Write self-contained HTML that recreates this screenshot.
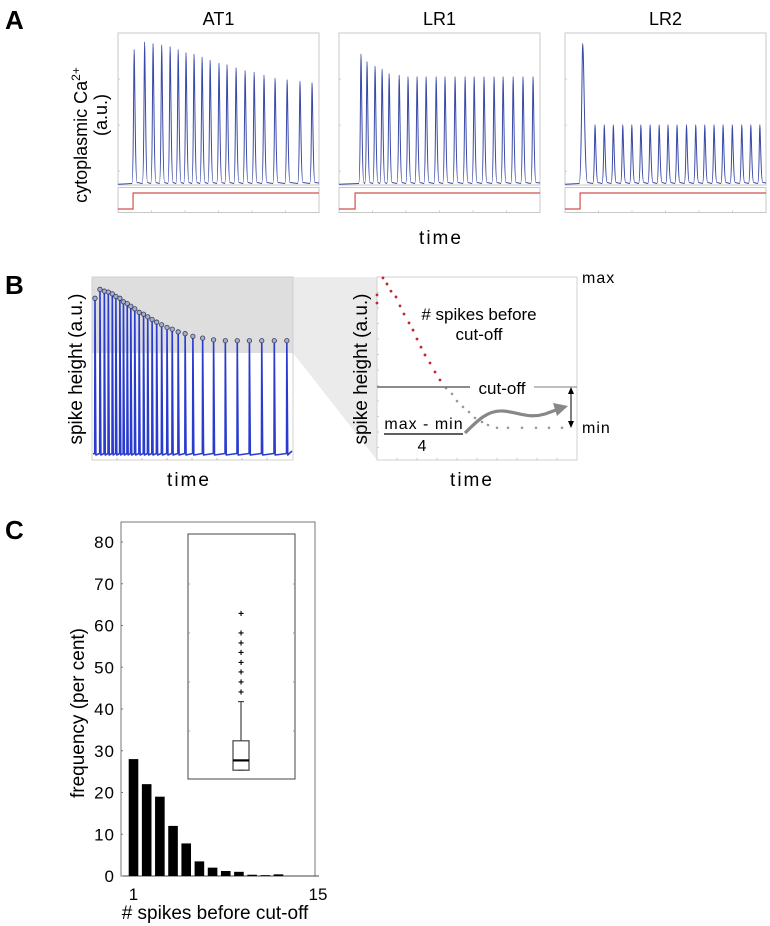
<!DOCTYPE html>
<html><head><meta charset="utf-8">
<style>
html,body{margin:0;padding:0;background:#fff;}
svg{display:block;font-family:"Liberation Sans",Arial,sans-serif;}
</style></head>
<body>
<svg id="fig" width="770" height="926" viewBox="0 0 770 926" xmlns="http://www.w3.org/2000/svg">
  <g id="gA"></g>
  <g id="gB"></g>
  <g id="gC"></g>
</svg>
<script>
// ---------- Panel A data (time 0-100 across panel, peak 0-100 of box height) ----------
const at1Times = [8,13.2,17.4,21.7,25.9,29.9,33.8,37.8,41.8,45.8,50.2,54.2,58.7,63.2,67.7,72.6,78.1,84.1,90.5,96.5];
const at1Peaks = [89,94,93,92,91,89,87,86,84,82,80,79,77,75,74,72,70,69,68,67];
const lr1Times = [10.9,13.9,17.9,21.4,24.9,29.9,34.3,38.8,43.3,48.3,52.7,57.7,62.7,67.2,72.1,77.1,81.6,86.6,91.5,96.5];
const lr1Peaks = [86,81,78,76,73,72,71,71,71,71,71,71,71,71,71,71,71,71,71,71];
const lr2Times = [8.8,14.9,19.5,24,28.7,33.2,37.7,42.3,46.8,51.2,55.7,60.4,65,69.5,74.1,78.6,83.2,87.9,92.4,96.9];
const lr2Peaks = [93,39,39,39,39,39,39,39,39,39,39,39,39,39,39,39,39,39,39,39];
const stimOnset = [7.5, 8, 7.5];
const panelTitles = ["AT1","LR1","LR2"];

// ---------- Panel B data ----------
const bTimes = [1,3.5,5.7,7.7,9.7,11.5,13.5,15.3,17.2,19,21,23.2,25.4,27.5,29.7,32,34.5,37.2,39.8,42.8,46.3,50.2,55.1,60.6,66.5,72.5,78.6,84.8,91.1,97.4];
const bPeaks = [88,93,92,91.5,90.5,89,88,86,85,83.5,82,80,79,77.5,76,74.5,73,71.5,70.5,69,68,66.5,65.5,64.5,64,64,64,64,64,64];
const redT = [0,0,3,5,7,9.5,11.5,13.5,16,18,20,22,24,26.5,29,31.5];
const redH = [90.2,85.8,99.5,96.2,92.3,89.1,84.2,79.8,74.9,71,66.1,61.7,57.4,53,48.1,43.7];
const grayT = [34.5,37.5,40,43,46,49,52.5,55.5,60,65.5,72.5,79.5,86,92.5];
const grayH = [39.3,36.1,32.2,29,26.2,23,20.8,19.1,17.6,17.6,17.6,17.6,17.6,17.6];

// ---------- Panel C data ----------
const spikeCounts = [1,2,3,4,5,6,7,8,9,10,11,12,13,14];
const frequency = [28,22,19,12,7.8,3.5,2,1.2,1,0.3,0.2,0.4,0,0];
const yTicks = [0,10,20,30,40,50,60,70,80];
const xTickLabels = [1,15];
const boxMin = 1, boxQ1 = 1, boxMedian = 2, boxQ3 = 4, boxWhiskerHi = 8;
const outliers = [9,10,11,12,13,14,15,17];
const insetTicks = [5,10,15,20];

const NS = "http://www.w3.org/2000/svg";
function mk(tag, attrs, parent, text){
  const e = document.createElementNS(NS, tag);
  for (const k in attrs) e.setAttribute(k, attrs[k]);
  if (text !== undefined) e.textContent = text;
  parent.appendChild(e);
  return e;
}
const gA = document.getElementById('gA');
const gB = document.getElementById('gB');
const gC = document.getElementById('gC');

// ===== Panel A =====
let t = mk('text',{x:5,y:29,'font-size':26,'font-weight':'bold'},gA,'A');



const boxesA = [118,339,565];
const boxW = 201, topA = 33, baseA = 183.5, botA = 185, stimTop = 187.5, stimBot = 212.5;
const seriesT = [at1Times, lr1Times, lr2Times];
const seriesP = [at1Peaks, lr1Peaks, lr2Peaks];
const names = ['at1','lr1','lr2'];
for (let p=0;p<3;p++){
  const x0 = boxesA[p];
  const sx = v => x0 + v*boxW/100;
  const sy = v => baseA - v*(baseA-topA)/100;
  const g = mk('g',{},gA);
  
  
  let tt = mk('text',{x:x0+boxW/2,y:25,'font-size':18,'text-anchor':'middle'},g,panelTitles[p]);
  
  
  let fr = mk('rect',{x:x0,y:topA,width:boxW,height:botA-topA,fill:'none',stroke:'#c8c8c8','stroke-width':1},g);
  
  
  for (let k=1;k<4;k++) mk('line',{x1:x0,x2:x0+2,y1:topA+k*(botA-topA)/3.3,y2:topA+k*(botA-topA)/3.3,stroke:'#ccc'},g);
  let d = `M${x0},${baseA+0.8}`;
  const times = seriesT[p], peaks = seriesP[p];
  for (let i=0;i<times.length;i++){
    const x = sx(times[i]), py = sy(peaks[i]);
    const big = (p===2 && i===0);
    const w1 = big?2.5:1.2, w2 = big?4:2.2;
    d += ` L${x-w1-1},${baseA} C${x-w1*0.5},${baseA} ${x-w1*0.25},${py} ${x},${py}`;
    d += ` C${x+w2*0.3},${py} ${x+w2*0.5},${baseA-1} ${x+w2+0.8},${baseA-1}`;
  }
  d += ` L${x0+boxW},${baseA-0.5}`;
  let tr = mk('path',{d:d,fill:'none',stroke:'#3a4aa8','stroke-width':1},g);
  
  
  let sb = mk('rect',{x:x0,y:stimTop,width:boxW,height:stimBot-stimTop,fill:'none',stroke:'#c8c8c8'},g);
  
  
  for (let k=1;k<6;k++) mk('line',{x1:x0+k*boxW/6,x2:x0+k*boxW/6,y1:stimBot,y2:stimBot-2,stroke:'#ccc'},g);
  const sxOn = sx(stimOnset[p]);
  let st = mk('path',{d:`M${x0},209 L${sxOn},209 L${sxOn},193 L${x0+boxW},193`,fill:'none',stroke:'#d0504a','stroke-width':1.2},g);
  
  
}
t = mk('text',{transform:'translate(87,135) rotate(-90)','font-size':18,'text-anchor':'middle'},gA);


t.innerHTML = 'cytoplasmic Ca<tspan dy="-7" font-size="12">2+</tspan>';
t = mk('text',{transform:'translate(107,115) rotate(-90)','font-size':18,'text-anchor':'middle'},gA,'(a.u.)');


t = mk('text',{x:441,y:244,'font-size':19,'text-anchor':'middle','letter-spacing':'2'},gA,'time');



// ===== Panel B =====
t = mk('text',{x:5,y:294,'font-size':26,'font-weight':'bold'},gB,'B');


const bx0=92, bx1=293, bTop=277, bBot=460, bBase=454;
let w = mk('polygon',{points:`${bx1},${bTop} 377,${bTop} 377,${bBot} ${bx1},353`,fill:'#ebebeb'},gB);


let gr = mk('rect',{x:bx0,y:bTop,width:bx1-bx0,height:353-bTop,fill:'#dedede'},gB);


mk('rect',{x:bx0,y:bTop,width:bx1-bx0,height:bBot-bTop,fill:'none',stroke:'#d0d0d0'},gB);
const bsx = v => bx0 + 1 + v*(bx1-bx0-2)/100;
const bsy = v => bBase - v*(bBase-bTop)/100;
let bd = `M${bx0+1},${bBase}`;
for (let i=0;i<bTimes.length;i++){
  const x = bsx(bTimes[i]);
  bd += ` L${x-0.3},${bBase-0.5} L${x},${bsy(bPeaks[i])} L${x+0.9},${bBase+1}`;
}
bd += ` L${bx1-1},${bBase-3}`;
let bp = mk('path',{d:bd,fill:'none',stroke:'#2a3cd0','stroke-width':1.6,'stroke-linejoin':'round'},gB);


for (let i=0;i<bTimes.length;i++){
  const c = mk('circle',{cx:bsx(bTimes[i]),cy:bsy(bPeaks[i]),r:2.2,fill:'#a8aec8',stroke:'#333a60','stroke-width':0.8},gB);
  
  
}
for (let k=1;k<8;k++) mk('line',{x1:bx0+k*25,x2:bx0+k*25,y1:bBot,y2:bBot-2,stroke:'#bbb'},gB);
t = mk('text',{transform:'translate(82,369) rotate(-90)','font-size':19,'text-anchor':'middle'},gB,'spike height (a.u.)');


t = mk('text',{x:189,y:486,'font-size':19,'text-anchor':'middle','letter-spacing':'2'},gB,'time');



const rx0=377, rx1=577, rTop=277, rBot=460;
const rsx = v => rx0 + v*2;
const rsy = v => rTop + (100 - v)*1.83;
mk('rect',{x:rx0,y:rTop,width:rx1-rx0,height:rBot-rTop,fill:'#fff',stroke:'#d0d0d0'},gB);
for (let k=1;k<12;k++) mk('line',{x1:rx0,x2:rx0+2,y1:rTop+k*15.5,y2:rTop+k*15.5,stroke:'#ccc'},gB);
for (let k=1;k<10;k++) mk('line',{x1:rx0+k*20,x2:rx0+k*20,y1:rBot,y2:rBot-2,stroke:'#ccc'},gB);
for (let i=0;i<redT.length;i++){
  const c = mk('circle',{cx:rsx(redT[i]),cy:rsy(redH[i]),r:1.4,fill:'#c02830'},gB);
  
  
}
for (let i=0;i<grayT.length;i++){
  const c = mk('circle',{cx:rsx(grayT[i]),cy:rsy(grayH[i]),r:1.3,fill:'#999'},gB);
  
  
}
let l = mk('line',{x1:rx0,x2:470,y1:387,y2:387,stroke:'#666','stroke-width':1.4},gB);


mk('line',{x1:534,x2:rx1,y1:387,y2:387,stroke:'#999','stroke-width':1.2},gB);
t = mk('text',{x:502,y:394,'font-size':17,'text-anchor':'middle'},gB,'cut-off');


t = mk('text',{x:479,y:320,'font-size':17,'text-anchor':'middle'},gB,'#  spikes before');


t = mk('text',{x:479,y:340,'font-size':17,'text-anchor':'middle'},gB,'cut-off');


t = mk('text',{x:582,y:283,'font-size':16,'letter-spacing':'1'},gB,'max');


t = mk('text',{x:582,y:433,'font-size':16,'letter-spacing':'1'},gB,'min');


t = mk('text',{x:424,y:429,'font-size':16,'text-anchor':'middle','letter-spacing':'1'},gB,'max - min');


mk('line',{x1:384,x2:463,y1:434,y2:434,stroke:'#000','stroke-width':1.2},gB);
t = mk('text',{x:422,y:451,'font-size':16,'text-anchor':'middle'},gB,'4');


let ar = mk('path',{d:'M465,433 C478,420 488,410 503,411 C518,412 528,419 545,414 L556,410',fill:'none',stroke:'#888','stroke-width':3.2},gB);


mk('polygon',{points:'568,406 553,403 557,416',fill:'#888'},gB);
let da = mk('line',{x1:571,x2:571,y1:392,y2:423,stroke:'#000','stroke-width':1},gB);


mk('polygon',{points:'571,387 568,394 574,394',fill:'#000'},gB);
mk('polygon',{points:'571,428 568,421 574,421',fill:'#000'},gB);
t = mk('text',{transform:'translate(367,369) rotate(-90)','font-size':19,'text-anchor':'middle'},gB,'spike height (a.u.)');


t = mk('text',{x:472,y:486,'font-size':19,'text-anchor':'middle','letter-spacing':'2'},gB,'time');



// ===== Panel C =====
t = mk('text',{x:5,y:539,'font-size':26,'font-weight':'bold'},gC,'C');


const cx0=121, cx1=315, cTop=522, cBot=876;
const cy = v => cBot - v*(876-542)/80;
const cxs = v => 133.5 + (v-1)*(318-133.5)/14;
let cf = mk('rect',{x:cx0,y:cTop,width:cx1-cx0,height:cBot-cTop,fill:'none',stroke:'#777','stroke-width':1},gC);


mk('line',{x1:cx0,x2:cx1+4,y1:cBot,y2:cBot,stroke:'#444','stroke-width':1},gC);
for (const v of yTicks){
  const y = cy(v);
  const tx = mk('text',{x:115,y:y+6,'font-size':17,'text-anchor':'end','letter-spacing':'1'},gC,String(v));
  
  
  mk('line',{x1:cx0,x2:cx0+2,y1:y,y2:y,stroke:'#777'},gC);
}
for (const v of xTickLabels){
  const tx = mk('text',{x:cxs(v),y:900,'font-size':17,'text-anchor':'middle'},gC,String(v));
  
  
}
for (let i=0;i<spikeCounts.length;i++){
  if (frequency[i] <= 0) continue;
  const x = cxs(spikeCounts[i]);
  const r = mk('rect',{x:x-4.8,y:cy(frequency[i]),width:9.6,height:cBot-cy(frequency[i]),fill:'#000'},gC);
  
  
}
t = mk('text',{transform:'translate(84,713) rotate(-90)','font-size':19,'text-anchor':'middle'},gC,'frequency (per cent)');


t = mk('text',{x:215,y:919,'font-size':19,'text-anchor':'middle'},gC,'# spikes before cut-off');


const ix0=188, ix1=295, iTop=534, iBot=779;
const iy = v => 780 - v*9.8;
let ib = mk('rect',{x:ix0,y:iTop,width:ix1-ix0,height:iBot-iTop,fill:'#fff',stroke:'#444','stroke-width':1},gC);


for (const v of insetTicks){
  mk('line',{x1:ix0,x2:ix0+2,y1:iy(v),y2:iy(v),stroke:'#999'},gC);
  mk('line',{x1:ix1-2,x2:ix1,y1:iy(v),y2:iy(v),stroke:'#999'},gC);
}
const bcx = 241;
let wk = mk('line',{x1:bcx,x2:bcx,y1:iy(boxWhiskerHi),y2:iy(boxQ3),stroke:'#444','stroke-width':1.2},gC);


mk('line',{x1:bcx-3,x2:bcx+3,y1:iy(boxWhiskerHi),y2:iy(boxWhiskerHi),stroke:'#444','stroke-width':1.2},gC);
let bb = mk('rect',{x:233,y:iy(boxQ3),width:16,height:iy(boxQ1)-iy(boxQ3),fill:'#fff',stroke:'#444','stroke-width':1.2},gC);


let md = mk('line',{x1:233,x2:249,y1:iy(boxMedian),y2:iy(boxMedian),stroke:'#000','stroke-width':2.2},gC);


mk('line',{x1:bcx-3,x2:bcx+3,y1:iy(boxMin),y2:iy(boxMin),stroke:'#444','stroke-width':1},gC);
for (const v of outliers){
  const o = mk('text',{x:bcx,y:iy(v)+3.5,'font-size':10,'font-weight':'bold','text-anchor':'middle'},gC,'+');
  
  
}
</script>
</body></html>
